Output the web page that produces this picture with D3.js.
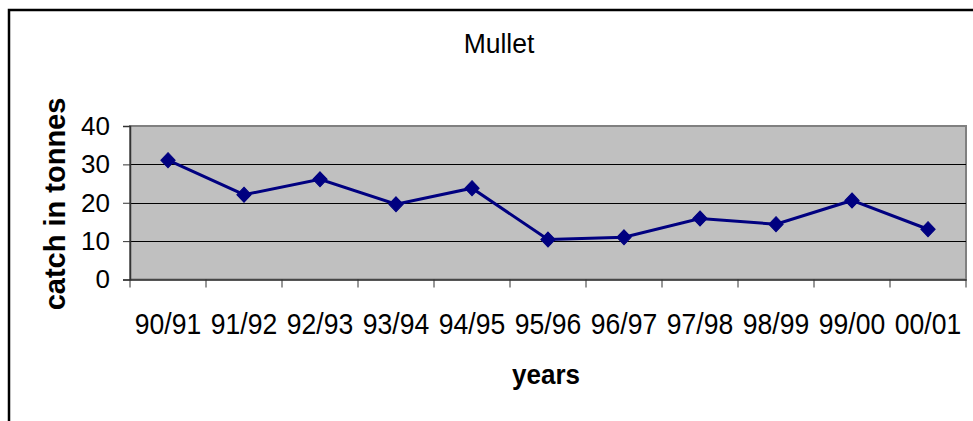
<!DOCTYPE html>
<html><head><meta charset="utf-8">
<script src="https://cdn.jsdelivr.net/npm/d3@7"></script>
<style>body{margin:0;background:#fff;}svg{display:block;font-family:"Liberation Sans",Arial,sans-serif;}</style>
</head><body>
<script>
const categories = ["90/91","91/92","92/93","93/94","94/95","95/96","96/97","97/98","98/99","99/00","00/01"];
const values = [31.1, 22.1, 26.1, 19.6, 23.8, 10.4, 11.0, 15.9, 14.4, 20.6, 13.1];
const yTicks = [0, 10, 20, 30, 40];
const title = "Mullet";
const xTitle = "years";
const yTitle = "catch in tonnes";

const W = 973, H = 421;
const svg = d3.select("body").append("svg").attr("width", W).attr("height", H);

// outer frame (top and left visible)
svg.append("path").attr("d", "M9,421 L9,10 L973,10").attr("fill","none").attr("stroke","#000").attr("stroke-width",2.5);

const L = 130, R = 966, T = 126, B = 279.5;
const x = d3.scaleBand().domain(categories).range([L, R]);
const y = d3.scaleLinear().domain([0, 40]).range([B, T]);

svg.append("rect").attr("x", L).attr("y", T).attr("width", R-L).attr("height", B-T)
  .attr("fill", "#c0c0c0").attr("stroke", "#808080").attr("stroke-width", 2);

// gridlines
svg.append("g").selectAll("line").data(yTicks.filter(d => d > 0 && d < 40)).join("line")
  .attr("x1", L).attr("x2", R).attr("y1", d => Math.round(y(d))+0.5).attr("y2", d => Math.round(y(d))+0.5)
  .attr("stroke", "#000").attr("stroke-width", 1);

// y axis
const ya = svg.append("g").attr("transform", `translate(${L},0)`)
  .call(d3.axisLeft(y).tickValues(yTicks).tickSize(7).tickPadding(13).tickFormat(d3.format("d")));
ya.select(".domain").attr("stroke", "#333").attr("stroke-width", 1.5);
ya.selectAll(".tick line").attr("stroke", "#333");
ya.selectAll("text").attr("font-size", 26).attr("fill", "#000").attr("font-family", "Liberation Sans, Arial, sans-serif");

// x axis
const xa = svg.append("g").attr("transform", `translate(0,${B})`)
  .call(d3.axisBottom(x).tickSize(0).tickPadding(0));
xa.select(".domain").attr("stroke", "#333").attr("stroke-width", 1.5);
xa.selectAll(".tick text").attr("font-size", 26).attr("fill", "#000").attr("dy", null).attr("y", 0)
  .attr("transform", "translate(0,54) scale(1.02,1.14)")
  .attr("font-family", "Liberation Sans, Arial, sans-serif");
// boundary ticks
const bounds = categories.map(c => x(c)).concat([x(categories[categories.length-1]) + x.bandwidth()]);
svg.append("g").selectAll("line").data(bounds).join("line")
  .attr("x1", d => d).attr("x2", d => d).attr("y1", B).attr("y2", B + 8)
  .attr("stroke", "#333").attr("stroke-width", 1);

// line
const cx = c => x(c) + x.bandwidth()/2;
svg.append("path").datum(values)
  .attr("d", d3.line().x((d,i) => cx(categories[i])).y(d => y(d)))
  .attr("fill", "none").attr("stroke", "#000080").attr("stroke-width", 3);
svg.append("g").selectAll("path").data(values).join("path")
  .attr("d", d3.symbol(d3.symbolDiamond2, 130)())
  .attr("transform", (d,i) => `translate(${cx(categories[i])},${y(d)}) scale(1,1.05)`)
  .attr("fill", "#000080").attr("stroke", "#000080").attr("stroke-width", 1);

// titles
svg.append("text").attr("transform", "translate(499,53) scale(1.02,1.08)").attr("text-anchor", "middle")
  .attr("font-size", 26).text(title);
svg.append("text").attr("transform", "translate(546,384) scale(1,1.05)").attr("text-anchor", "middle")
  .attr("font-size", 26).attr("font-weight", "bold").text(xTitle);
svg.append("text").attr("transform", "translate(65,204) rotate(-90)").attr("text-anchor", "middle")
  .attr("font-size", 29).attr("font-weight", "bold").text(yTitle);
</script>
</body></html>
